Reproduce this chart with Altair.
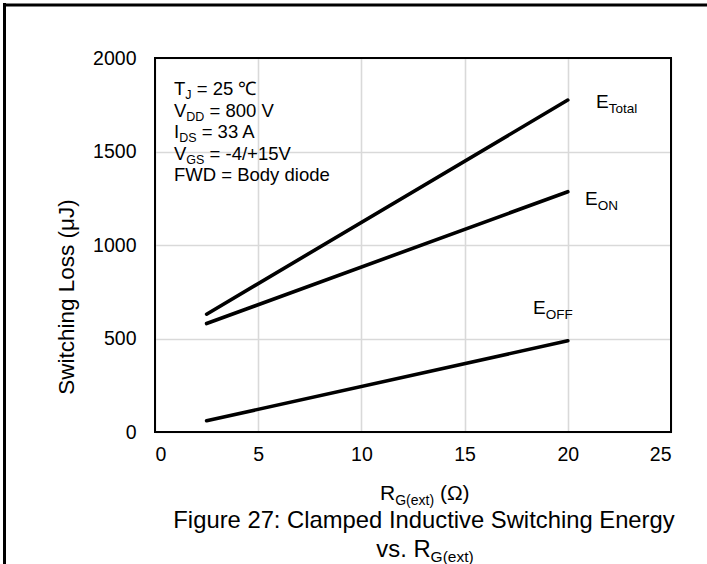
import altair as alt
import pandas as pd

# Switching energy vs external gate resistance
rg_ohm = [2.5, 20]
e_total = [630, 1775]
e_on = [580, 1285]
e_off = [60, 488]

x_ticks = [0, 5, 10, 15, 20, 25]
y_ticks = [0, 500, 1000, 1500, 2000]

FONT = "Liberation Sans"
W, H = 516, 374           # plot area
OX, OY = 155, 58          # plot origin on the page

rows = []
for name, vals in [("E_Total", e_total), ("E_ON", e_on), ("E_OFF", e_off)]:
    for r, v in zip(rg_ohm, vals):
        rows.append({"series": name, "rg": r, "loss": v})
df = pd.DataFrame(rows)

x_scale = alt.Scale(domain=[0, 25], nice=False, zero=False)
y_scale = alt.Scale(domain=[0, 2000], nice=False)

base = alt.Chart(df)

lines = base.mark_line(color="black", strokeWidth=3.6, strokeCap="round").encode(
    x=alt.X("rg:Q", scale=x_scale,
            axis=alt.Axis(values=x_ticks, title=None, grid=True, ticks=False,
                          domain=False, labelPadding=13, labelFontSize=19.5,
                          labelFont=FONT, labelColor="black", format="d",
                          gridColor="#d9d9d9", gridWidth=1.6)),
    y=alt.Y("loss:Q", scale=y_scale,
            axis=alt.Axis(values=y_ticks, title=None, grid=True, ticks=False,
                          domain=False, labelPadding=19, labelFontSize=19.5,
                          labelFont=FONT, labelColor="black", format="d",
                          gridColor="#d9d9d9", gridWidth=1.6)),
    detail="series:N",
)

one = pd.DataFrame({"k": [0]})

# Arial advance widths (per 1000 em) for laying out rich text runs
ADV = {" ": 278, "=": 584, "-": 333, "/": 278, "+": 584, ".": 278, "(": 333,
       ")": 333, ":": 278, "A": 667, "B": 667, "C": 722, "D": 722, "E": 667,
       "F": 611, "G": 778, "I": 278, "J": 500, "N": 722, "O": 778, "R": 722,
       "S": 667, "T": 611, "V": 667, "W": 944, "a": 556, "b": 556, "c": 500,
       "d": 556, "e": 556, "g": 556, "h": 556, "i": 222, "l": 222, "m": 833,
       "n": 556, "o": 556, "p": 556, "r": 333, "s": 500, "t": 278, "u": 556,
       "v": 500, "w": 722, "x": 500, "y": 500, "\u2103": 1000, "\u03a9": 768}
for d in "0123456789":
    ADV[d] = 556


def run_width(s, fs):
    return sum(ADV.get(c, 556) for c in s) / 1000 * fs


def rich_text(parts, x, y, fs, sub_fs, sub_dy, center=False):
    """parts: list of (text, is_subscript); x, y = page coords of baseline start."""
    total = sum(run_width(t, sub_fs if s else fs) for t, s in parts)
    if center:
        x -= total / 2
    layers = []
    for t, s in parts:
        size = sub_fs if s else fs
        yy = y + (sub_dy if s else 0)
        # leading blanks are collapsed by the renderer, so advance past them
        lead = len(t) - len(t.lstrip(" "))
        x += run_width(" " * lead, size)
        body = t.lstrip(" ")
        layers.append(
            alt.Chart(one).mark_text(text=body, font=FONT, fontSize=size, color="black",
                                     align="left", baseline="alphabetic")
            .encode(x=alt.value(x - OX), y=alt.value(yy - OY))
        )
        x += run_width(body, size)
    return layers


texts = []
# test conditions block
cond = [
    [("T", 0), ("J", 1), (" = 25 \u2103", 0)],
    [("V", 0), ("DD", 1), (" = 800 V", 0)],
    [("I", 0), ("DS", 1), (" = 33 A", 0)],
    [("V", 0), ("GS", 1), (" = -4/+15V", 0)],
    [("FWD = Body diode", 0)],
]
for i, parts in enumerate(cond):
    texts += rich_text(parts, 174, 95 + i * 21.5, 18.5, 12.5, 4)

# curve labels
texts += rich_text([("E", 0), ("Total", 1)], 596, 108, 19, 13.5, 5)
texts += rich_text([("E", 0), ("ON", 1)], 585, 205, 19, 13.5, 5)
texts += rich_text([("E", 0), ("OFF", 1)], 533, 314, 19, 13.5, 5)

# x-axis title and figure caption
texts += rich_text([("R", 0), ("G(ext)", 1), (" (\u03a9)", 0)], 425, 500, 21, 14, 5, center=True)
texts += rich_text([("Figure 27: Clamped Inductive Switching Energy", 0)], 424, 528, 23.8, 15, 5, center=True)
texts += rich_text([("vs. R", 0), ("G(ext)", 1)], 425, 557, 23.8, 15.5, 5, center=True)

# y-axis title
y_title = alt.Chart(one).mark_text(
    text="Switching Loss (\u03bcJ)", font=FONT, fontSize=22.5, color="black",
    angle=270, align="center", baseline="middle"
).encode(x=alt.value(67 - OX), y=alt.value(297 - OY))

# plot-area border
border = alt.Chart(one).mark_rect(fillOpacity=0, stroke="black", strokeWidth=2).encode(
    x=alt.value(0), x2=alt.value(W), y=alt.value(0), y2=alt.value(H)
)

# page frame (left and top edges)
frame_left = alt.Chart(one).mark_rule(color="black", strokeWidth=3).encode(
    x=alt.value(4.5 - OX), y=alt.value(3 - OY), y2=alt.value(564 - OY)
)
frame_top = alt.Chart(one).mark_rule(color="black", strokeWidth=3).encode(
    x=alt.value(3 - OX), x2=alt.value(707 - OX), y=alt.value(5 - OY)
)

chart = alt.layer(lines, border, y_title, frame_left, frame_top, *texts).properties(
    width=W, height=H,
    autosize="none",
    padding={"left": OX, "top": OY, "right": 707 - OX - W, "bottom": 564 - OY - H},
    background="white",
).configure_view(stroke=None)

chart.save("out.html", embed_options={"renderer": "svg", "actions": False})
